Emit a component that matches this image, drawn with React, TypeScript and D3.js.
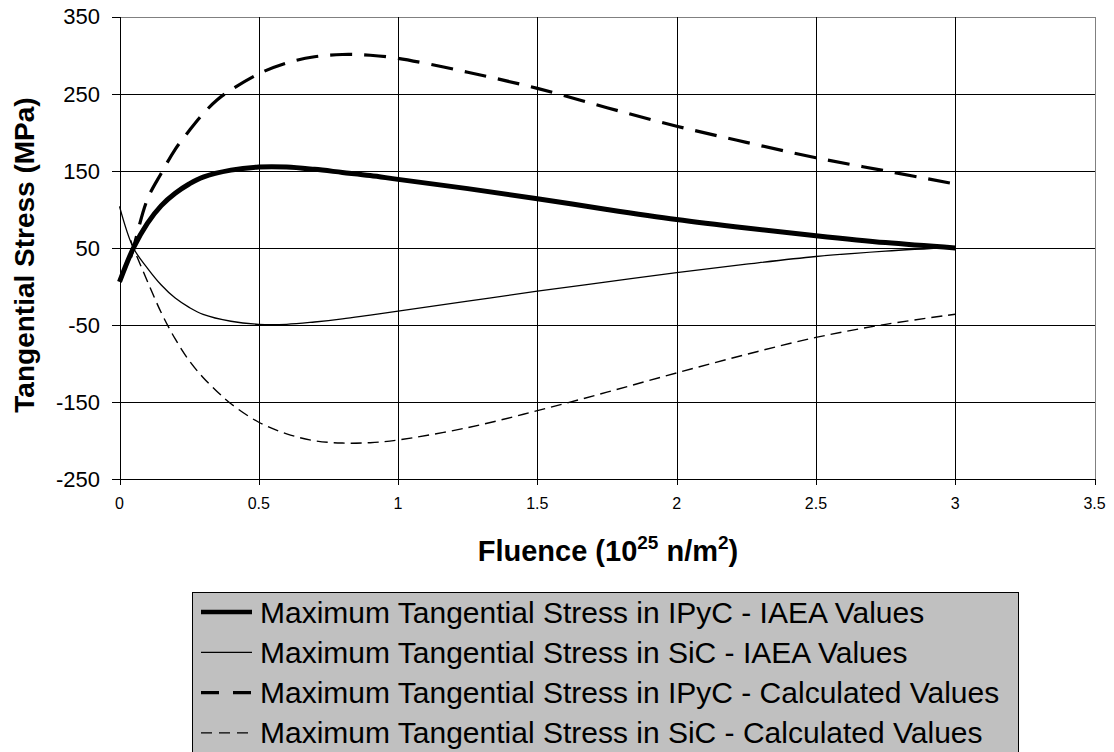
import React from 'react';
import * as d3 from 'd3';

const xTicks = [0, 0.5, 1, 1.5, 2, 2.5, 3, 3.5];
const yTicks = [-250, -150, -50, 50, 150, 250, 350];

const xIpycIaea = [0, 0.05, 0.1, 0.15, 0.2, 0.25, 0.3, 0.4, 0.5, 0.6, 0.7, 0.8, 0.9, 1.0, 1.25, 1.5, 1.75, 2.0, 2.25, 2.5, 2.75, 3.0];
const yIpycIaea = [6, 50, 82, 105, 121, 133, 142, 151, 155, 155, 152, 148, 144, 139, 127, 114, 100, 87, 76, 66, 57, 50];

const xSicIaea = [0, 0.05, 0.1, 0.15, 0.2, 0.25, 0.3, 0.4, 0.5, 0.6, 0.7, 0.8, 0.9, 1.0, 1.25, 1.5, 1.75, 2.0, 2.25, 2.5, 2.75, 3.0];
const ySicIaea = [104, 50, 24, 2, -15, -27, -36, -45, -49, -49, -46, -42, -37, -32, -19, -6, 6, 18, 29, 39, 46, 51];

const xIpycCalc = [0.04, 0.05, 0.1, 0.15, 0.2, 0.25, 0.3, 0.35, 0.4, 0.5, 0.6, 0.7, 0.8, 0.9, 1.0, 1.25, 1.5, 1.75, 2.0, 2.25, 2.5, 2.75, 3.0];
const yIpycCalc = [38, 50, 113, 147, 178, 202, 224, 242, 255, 276, 290, 298, 301, 300, 296, 278, 257, 232, 208, 187, 167, 150, 133];

const xSicCalc = [0.04, 0.05, 0.1, 0.15, 0.2, 0.25, 0.3, 0.35, 0.4, 0.5, 0.6, 0.7, 0.8, 0.9, 1.0, 1.25, 1.5, 1.75, 2.0, 2.25, 2.5, 2.75, 3.0];
const ySicCalc = [60, 50, 7, -34, -68, -96, -118, -136, -152, -176, -191, -200, -203, -202.5, -199, -183, -161, -137, -112, -88, -66, -49, -36];

const legendLabels = [
  'Maximum Tangential Stress in IPyC - IAEA Values',
  'Maximum Tangential Stress in SiC - IAEA Values',
  'Maximum Tangential Stress in IPyC - Calculated Values',
  'Maximum Tangential Stress in SiC - Calculated Values',
];

const FONT = '"Liberation Sans", Arial, sans-serif';

export default function App() {
  const x = d3.scaleLinear().domain([0, 3.5]).range([119.5, 1094.5]);
  const y = d3.scaleLinear().domain([-250, 350]).range([479.3, 16.7]);

  const line = d3
    .line<[number, number]>()
    .x((d) => x(d[0]))
    .y((d) => y(d[1]))
    .curve(d3.curveCatmullRom.alpha(0.5));

  const zip = (a: number[], b: number[]) => a.map((v, i) => [v, b[i]] as [number, number]);

  const series = [
    { d: zip(xIpycIaea, yIpycIaea), w: 5, dash: 'none' },
    { d: zip(xSicIaea, ySicIaea), w: 1.3, dash: 'none' },
    { d: zip(xIpycCalc, yIpycCalc), w: 3.2, dash: '22,12' },
    { d: zip(xSicCalc, ySicCalc), w: 1.4, dash: '11,6' },
  ];

  const legendStyles = [
    { w: 4.5, dash: 'none' },
    { w: 1.3, dash: 'none' },
    { w: 3.2, dash: '18,14' },
    { w: 1.4, dash: '11,7' },
  ];

  const x0 = x(0), x1 = x(3.5), y0 = y(-250), y1 = y(350);
  const crisp = (v: number) => Math.round(v) + 0.5;

  return (
    <svg
      width={1114}
      height={752}
      style={{ position: 'absolute', left: 0, top: 0, display: 'block', background: '#fff' }}
      fontFamily={FONT}
    >
      {yTicks.filter((t) => t !== -250).map((t) => (
        <line key={'gy' + t} x1={x0} x2={x1} y1={crisp(y(t))} y2={crisp(y(t))}
          stroke={t === 350 ? '#808080' : '#000'} strokeWidth={1} shapeRendering="crispEdges" />
      ))}
      {xTicks.filter((t) => t !== 0).map((t) => (
        <line key={'gx' + t} x1={crisp(x(t))} x2={crisp(x(t))} y1={y1} y2={y0}
          stroke={t === 3.5 ? '#808080' : '#000'} strokeWidth={1} shapeRendering="crispEdges" />
      ))}
      <line x1={crisp(x0)} x2={crisp(x0)} y1={y1} y2={y0} stroke="#000" strokeWidth={1} shapeRendering="crispEdges" />
      <line x1={x0} x2={x1} y1={crisp(y0)} y2={crisp(y0)} stroke="#000" strokeWidth={1} shapeRendering="crispEdges" />
      {yTicks.map((t) => (
        <g key={'yt' + t}>
          <line x1={x0 - 8} x2={x0} y1={crisp(y(t))} y2={crisp(y(t))} stroke="#000" shapeRendering="crispEdges" />
          <text x={100} y={y(t)} dy="0.35em" textAnchor="end" fontSize={22} fill="#000">{t}</text>
        </g>
      ))}
      {xTicks.map((t) => (
        <g key={'xt' + t}>
          <line x1={crisp(x(t))} x2={crisp(x(t))} y1={y0} y2={y0 + 6} stroke="#000" shapeRendering="crispEdges" />
          <text x={x(t)} y={509} textAnchor="middle" fontSize={16} fill="#000">{t}</text>
        </g>
      ))}
      {series.map((s, i) => (
        <path key={'s' + i} d={line(s.d) || ''} fill="none" stroke="#000" strokeWidth={s.w}
          strokeDasharray={s.dash} strokeLinecap="butt" strokeLinejoin="round" />
      ))}
      <text x={608} y={561} textAnchor="middle" fontSize={29} fontWeight="bold" fill="#000">
        Fluence (10
        <tspan fontSize={19} dy={-12}>25</tspan>
        <tspan dy={12}> n/m</tspan>
        <tspan fontSize={19} dy={-12}>2</tspan>
        <tspan dy={12}>)</tspan>
      </text>
      <text transform={`translate(34, 255) rotate(-90)`} textAnchor="middle" fontSize={28}
        fontWeight="bold" fill="#000">Tangential Stress (MPa)</text>
      <rect x={192.5} y={592.5} width={826} height={200} fill="#c0c0c0" stroke="#000" strokeWidth={1} />
      {legendLabels.map((lab, i) => {
        const cy = 612 + i * 40.3;
        const st = legendStyles[i];
        return (
          <g key={'lg' + i}>
            <line x1={201} x2={252} y1={cy} y2={cy} stroke="#000" strokeWidth={st.w} strokeDasharray={st.dash} />
            <text x={260} y={cy} dy="0.35em" fontSize={30} fill="#000">{lab}</text>
          </g>
        );
      })}
    </svg>
  );
}
